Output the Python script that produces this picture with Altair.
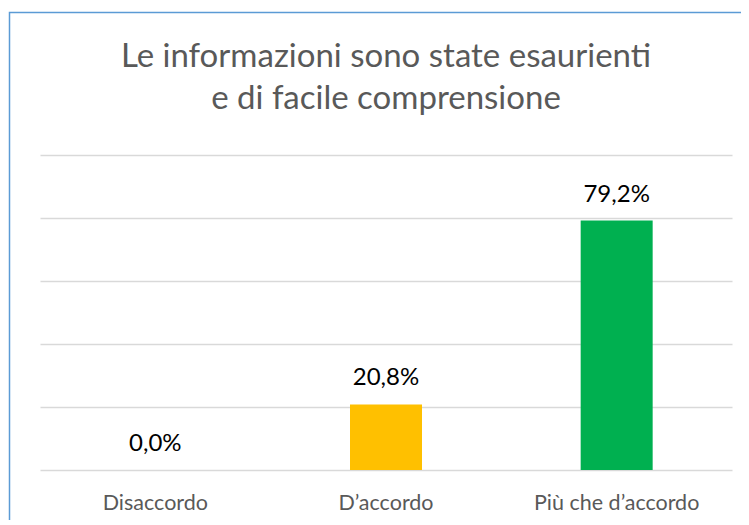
import altair as alt
import pandas as pd

categories = ["Disaccordo", "D\u2019accordo", "Pi\u00f9 che d\u2019accordo"]
values = [0.0, 20.8, 79.2]
colors = ["#FF0000", "#FFC000", "#00B050"]
title_lines = ["Le informazioni sono state esaurienti", "e di facile comprensione"]
grid_ticks = [0, 20, 40, 60, 80, 100]

labels = [f"{v:.1f}%".replace(".", ",") for v in values]
df = pd.DataFrame({"cat": categories, "val": values, "label": labels, "color": colors})

FONT = "Lato"

x = alt.X("cat:N", sort=categories, title=None,
          scale=alt.Scale(paddingInner=0, paddingOuter=0),
          axis=alt.Axis(labelAngle=0, domain=False, ticks=False, labelPadding=22,
                        labelFontSize=21.5, labelColor="#595959", labelFont=FONT))
y = alt.Y("val:Q", title=None, scale=alt.Scale(domain=[0, 100], nice=False),
          axis=alt.Axis(values=grid_ticks, labels=False, ticks=False, domain=False,
                        grid=True, gridColor="#D9D9D9", gridWidth=1.5))

bars = alt.Chart(df).mark_bar(size=72).encode(
    x=x, y=y, color=alt.Color("color:N", scale=None)
)
text = alt.Chart(df).mark_text(fontSize=24, font=FONT, color="#000000",
                               baseline="alphabetic", dy=-19).encode(
    x=alt.X("cat:N", sort=categories), y="val:Q", text="label:N"
)
border = alt.Chart(alt.Data(values=[{"a": 1}])).mark_rect(
    filled=False, stroke="#5B9BD5", strokeWidth=1.5
).encode(x=alt.value(-30.5), x2=alt.value(900), y=alt.value(-142.5), y2=alt.value(700))

chart = alt.layer(bars, text, border).properties(
    width=692, height=315,
    padding={"left": 32, "top": 147, "right": 9, "bottom": 50},
    autosize=alt.AutoSizeParams(type="none"),
    title=alt.TitleParams(title_lines, fontSize=33, font=FONT, fontWeight="normal",
                          color="#595959", anchor="middle", offset=0, dy=130,
                          baseline="alphabetic", lineHeight=42),
).configure(background="white", view=alt.ViewConfig(strokeWidth=0, stroke="transparent"))

chart.save("out.html", embed_options={"renderer": "svg", "actions": False})
